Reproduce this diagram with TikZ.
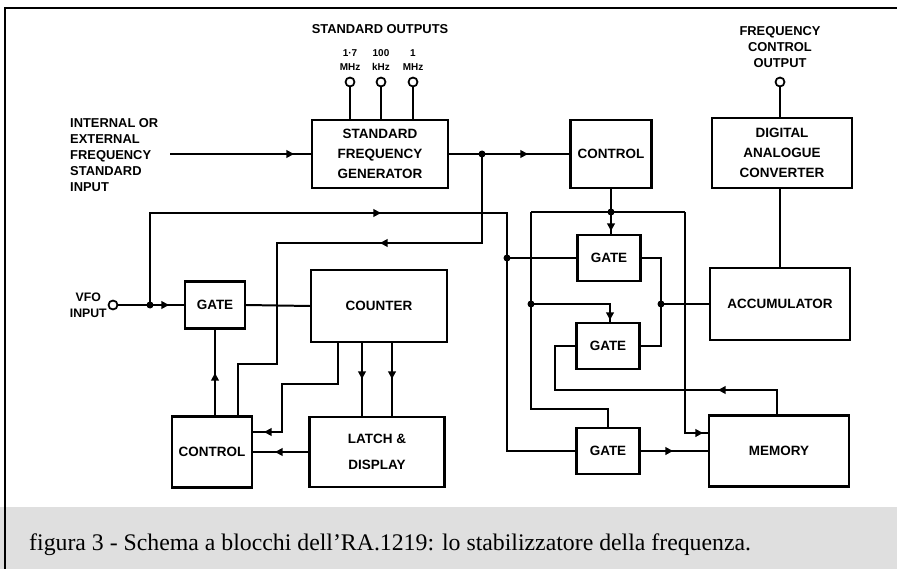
\documentclass[tikz,border=0pt]{standalone}
\usepackage{fontspec}
\setmainfont{Liberation Serif}
\newfontfamily\lblfont{Liberation Sans}
\usetikzlibrary{arrows.meta,calc}
\def\px{0.03cm}
\begin{document}
\begin{tikzpicture}[x=0.03cm,y=-0.03cm,
  blk/.style={draw,line width=1.8pt,align=center,inner sep=0pt,
    font=\lblfont\bfseries\fontsize{11.5}{17}\selectfont},
  wire/.style={line width=1.7pt},
  frame/.style={line width=1.8pt},
  dot/.style={circle,fill,inner sep=0pt,minimum size=7*\px},
  pin/.style={circle,draw,fill=white,line width=1.5pt,inner sep=0pt,minimum size=9*\px},
  lbl/.style={align=center,inner sep=0pt,font=\lblfont\bfseries\fontsize{11}{14}\selectfont},
  small/.style={align=center,inner sep=0pt,font=\lblfont\bfseries\fontsize{8.5}{12}\selectfont},
  tip/.style={line width=1.7pt,-{Triangle[length=6.5pt,width=6.5pt]}}]
\useasboundingbox (0,0) rectangle (897,569);
% caption band and frame
\fill[gray!25] (0,507) rectangle (897,569);
\draw[frame] (5,569) -- (5,8) -- (897,8);
\node[anchor=base west,inner sep=0pt,font=\fontsize{20.3}{24}\selectfont] (cap) at (29,550)
  {figura 3 - Schema a blocchi dell’RA.1219: lo stabilizzatore della frequenza.};

% blocks
\node[blk,minimum width=136*\px,minimum height=68*\px] (sfg) at (380,154) {STANDARD\\FREQUENCY\\GENERATOR};
\node[blk,minimum width=81*\px,minimum height=68*\px] (ctrl1) at (611,154) {CONTROL};
\node[blk,minimum width=140*\px,minimum height=70*\px] (dac) at (782,153) {DIGITAL\\ANALOGUE\\CONVERTER};
\node[blk,minimum width=60*\px,minimum height=47*\px] (gate1) at (215,305) {GATE};
\node[blk,minimum width=136*\px,minimum height=72*\px] (counter) at (379,306) {COUNTER};
\node[blk,minimum width=80*\px,minimum height=71*\px] (ctrl2) at (212,452) {CONTROL};
\node[blk,minimum width=135*\px,minimum height=70*\px,font=\lblfont\bfseries\fontsize{11.5}{22}\selectfont] (latch) at (377,452) {LATCH \&\\DISPLAY};
\node[blk,minimum width=63*\px,minimum height=46*\px] (gate2) at (609,258) {GATE};
\node[blk,minimum width=63*\px,minimum height=46*\px] (gate4) at (608,346) {GATE};
\node[blk,minimum width=63*\px,minimum height=46*\px] (gate3) at (608,451) {GATE};
\node[blk,minimum width=140*\px,minimum height=72*\px] (acc) at (780,304) {ACCUMULATOR};
\node[blk,minimum width=140*\px,minimum height=71*\px] (mem) at (779,451) {MEMORY};

% labels
\node[lbl] (so) at (380,29) {STANDARD OUTPUTS};
\node[small] (l1) at (350,60) {1·7\\MHz};
\node[small] (l2) at (381,60) {100\\kHz};
\node[small] (l3) at (413,60) {1\\MHz};
\node[lbl,font=\lblfont\bfseries\fontsize{11}{14}\selectfont] (fcol) at (780,47) {FREQUENCY\\CONTROL\\OUTPUT};
\node[lbl,align=left,anchor=west,font=\lblfont\bfseries\fontsize{11}{13.6}\selectfont] (inlbl) at (70,155)
  {INTERNAL OR\\EXTERNAL\\FREQUENCY\\STANDARD\\INPUT};
\node[lbl,anchor=east,font=\lblfont\bfseries\fontsize{10.5}{14}\selectfont] (vfol) at (107,305) {VFO\\INPUT};

% pins
\node[pin] (p1) at (350,82) {};
\node[pin] (p2) at (381,82) {};
\node[pin] (p3) at (413,82) {};
\node[pin] (fco) at (780,82) {};
\node[pin] (vfo) at (113,305) {};
\draw[wire] (p1.south) -- (p1.south |- sfg.north);
\draw[wire] (p2.south) -- (p2.south |- sfg.north);
\draw[wire] (p3.south) -- (p3.south |- sfg.north);
\draw[wire] (fco.south) -- (fco.south |- dac.north);
\draw[wire] (acc.north) -- (acc.north |- dac.south);

% input to SFG
\coordinate (inS) at (170,154);
\draw[wire] (inS) -- (sfg.west);
\draw[tip] (287,154) -- (294,154);

% SFG -> control 1, junction j1 -> control 2
\coordinate (j1) at (482,154);
\draw[wire] (sfg.east) -- (ctrl1.west);
\draw[tip] (521,154) -- (528,154);
\coordinate (b1) at (482,243);
\coordinate (b2) at (277,243);
\coordinate (b3) at (277,364);
\coordinate (b4) at (238,364);
\draw[wire] (j1) -- (b1) -- (b2) -- (b3) -- (b4) -- (b4 |- ctrl2.north);
\draw[tip] (387,243) -- (380,243);

% VFO input
\coordinate (j2) at (150,305);
\draw[wire] (vfo.east) -- (gate1.west);
\draw[tip] (162,305) -- (169,305);
\coordinate (b5) at (150,213);
\coordinate (b6) at (507,213);
\coordinate (j3) at (507,258);
\draw[wire] (j2) -- (b5) -- (b6) -- (b6 |- gate3.west) -- (gate3.west);
\draw[tip] (374,213) -- (381,213);
\draw[wire] (j3) -- (gate2.west);

% gate1 / counter / control 2 / latch
\draw[wire] (gate1.east) -- (counter.west);
\draw[wire] (gate1.south |- ctrl2.north) -- (gate1.south);
\draw[tip] (215,380) -- (215,373);
\coordinate (b7) at (338,384);
\coordinate (b8) at (282,384);
\coordinate (b9) at (282,432);
\draw[wire] (b7 |- counter.south) -- (b7) -- (b8) -- (b9) -- (b9 -| ctrl2.east);
\draw[tip] (271,432) -- (264,432);
\coordinate (c1) at (362,380);
\coordinate (c2) at (392,380);
\draw[wire] (c1 |- counter.south) -- (c1 |- latch.north);
\draw[wire] (c2 |- counter.south) -- (c2 |- latch.north);
\draw[tip] (362,372) -- (362,379);
\draw[tip] (392,372) -- (392,379);
\draw[wire] (latch.west) -- (ctrl2.east |- latch.west);
\draw[tip] (282,452) -- (275,452);

% control 1 / gates loop
\coordinate (j4) at (611,212);
\draw[wire] (ctrl1.south) -- (j4);
\draw[wire] (j4) -- (j4 |- gate2.north);
\draw[tip] (611,224) -- (611,231);
\coordinate (r0) at (531,212);
\coordinate (r1) at (685,212);
\draw[wire] (r0) -- (r1);
\coordinate (q1) at (531,409);
\coordinate (q2) at (608,409);
\draw[wire] (r0) -- (q1) -- (q2) -- (q2 |- gate3.north);
\coordinate (j5) at (531,304);
\coordinate (m1) at (610,304);
\draw[wire] (j5) -- (m1) -- (m1 |- gate4.north);
\draw[tip] (610,313) -- (610,320);
\coordinate (r2) at (685,433);
\draw[wire] (r1) -- (r2) -- (r2 -| mem.west);
\draw[tip] (696,433) -- (703,433);

% gates to accumulator
\coordinate (g1) at (661,258);
\coordinate (g2) at (661,346);
\coordinate (j6) at (661,304);
\draw[wire] (gate2.east) -- (g1) -- (g2) -- (gate4.east);
\draw[wire] (j6) -- (acc.west);

% memory feedback to gate4
\coordinate (h1) at (555,346);
\coordinate (h2) at (555,390);
\coordinate (h3) at (777,390);
\draw[wire] (gate4.west) -- (h1) -- (h2) -- (h3) -- (h3 |- mem.north);
\draw[tip] (725,390) -- (718,390);

% gate3 -> memory
\draw[wire] (gate3.east) -- (gate3.east -| mem.west);
\draw[tip] (666,451) -- (673,451);

% junction dots
\foreach \j in {j1,j2,j3,j4,j5,j6} \node[dot] at (\j) {};
\end{tikzpicture}
\end{document}
